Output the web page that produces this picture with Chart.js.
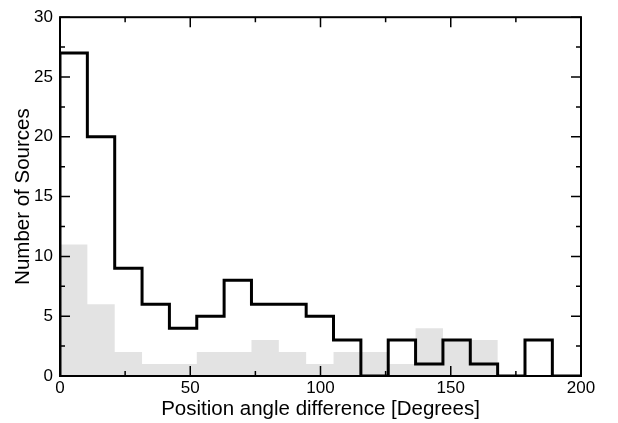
<!DOCTYPE html>
<html>
<head>
<meta charset="utf-8">
<script src="https://cdn.jsdelivr.net/npm/chart.js@4/dist/chart.umd.min.js"></script>
<style>
  html, body { margin: 0; padding: 0; background: #fff; }
  #wrap { width: 618px; height: 423px; }
</style>
</head>
<body>
<div id="wrap"><canvas id="histChart"></canvas></div>
<script>
// Histogram data (bin left edges, last entry closes the final bin)
const binEdges = [0, 10.5, 21, 31.5, 42, 52.5, 63, 73.5, 84, 94.5, 105, 115.5, 126, 136.5, 147, 157.5, 168, 178.5, 189, 200];
const allSources = [27, 20, 9, 6, 4, 5, 8, 6, 6, 5, 3, 0, 3, 1, 3, 1, 0, 3, 0, 0];
const subSources = [11, 6, 2, 1, 1, 2, 2, 3, 2, 1, 2, 2, 1, 4, 3, 3, 0, 0, 0, 0];

const xTicks = [0, 50, 100, 150, 200];
const yTicks = [0, 5, 10, 15, 20, 25, 30];

const toPoints = vals => [{x: binEdges[0], y: 0}].concat(binEdges.map((e, i) => ({x: e, y: vals[i]})));

// Frame + inward ticks on all four sides
const frameTicks = {
    id: 'frameTicks',
    afterDatasetsDraw(chart) {
        const {ctx, chartArea: a, scales: {x, y}} = chart;
        ctx.save();
        ctx.strokeStyle = '#000';
        ctx.lineWidth = 1.5;
        ctx.beginPath();
        for (let v = 0; v <= 200; v += 25) {
            const px = x.getPixelForValue(v);
            const len = v % 50 === 0 ? 10 : 5;
            ctx.moveTo(px, a.bottom); ctx.lineTo(px, a.bottom - len);
            ctx.moveTo(px, a.top); ctx.lineTo(px, a.top + len);
        }
        for (let v = 0; v <= 30; v += 2.5) {
            const py = y.getPixelForValue(v);
            const len = v % 5 === 0 ? 10 : 5;
            ctx.moveTo(a.left, py); ctx.lineTo(a.left + len, py);
            ctx.moveTo(a.right, py); ctx.lineTo(a.right - len, py);
        }
        ctx.stroke();
        ctx.lineWidth = 2;
        ctx.strokeRect(a.left, a.top, a.right - a.left, a.bottom - a.top);
        ctx.restore();
    }
};

const ctx = document.getElementById('histChart').getContext('2d');

new Chart(ctx, {
    type: 'line',
    data: {
        datasets: [{
            label: 'Subset',
            data: toPoints(subSources),
            stepped: 'before',
            fill: 'origin',
            backgroundColor: '#e3e3e3',
            borderWidth: 0,
            borderColor: 'rgba(0,0,0,0)',
            pointRadius: 0,
            order: 2
        }, {
            label: 'All',
            data: toPoints(allSources),
            stepped: 'before',
            fill: false,
            borderColor: '#000',
            borderWidth: 3,
            pointRadius: 0,
            order: 1
        }]
    },
    options: {
        responsive: true,
        maintainAspectRatio: false,
        animation: false,
        layout: { padding: { top: 11, right: 37, left: 0, bottom: 0 } },
        plugins: {
            legend: { display: false },
            tooltip: { enabled: false }
        },
        scales: {
            x: {
                type: 'linear',
                min: 0,
                max: 200,
                afterBuildTicks: scale => { scale.ticks = xTicks.map(v => ({value: v})); },
                afterFit: scale => { scale.height = 47; },
                grid: { display: false, drawTicks: false },
                border: { display: false },
                ticks: {
                    color: '#000',
                    padding: 2,
                    maxRotation: 0,
                    font: { family: 'Liberation Sans', size: 17 }
                },
                title: {
                    display: true,
                    text: 'Position angle difference [Degrees]',
                    color: '#000',
                    padding: { top: 0, bottom: 1 },
                    font: { family: 'Liberation Sans', size: 20.5 }
                }
            },
            y: {
                min: 0,
                max: 30,
                afterBuildTicks: scale => { scale.ticks = yTicks.map(v => ({value: v})); },
                afterFit: scale => { scale.width = 60; },
                grid: { display: false, drawTicks: false },
                border: { display: false },
                ticks: {
                    color: '#000',
                    padding: 7,
                    font: { family: 'Liberation Sans', size: 17 }
                },
                title: {
                    display: true,
                    text: 'Number of Sources',
                    color: '#000',
                    padding: { top: 11, bottom: 0 },
                    font: { family: 'Liberation Sans', size: 20.5 }
                }
            }
        }
    },
    plugins: [frameTicks]
});
</script>
</body>
</html>
